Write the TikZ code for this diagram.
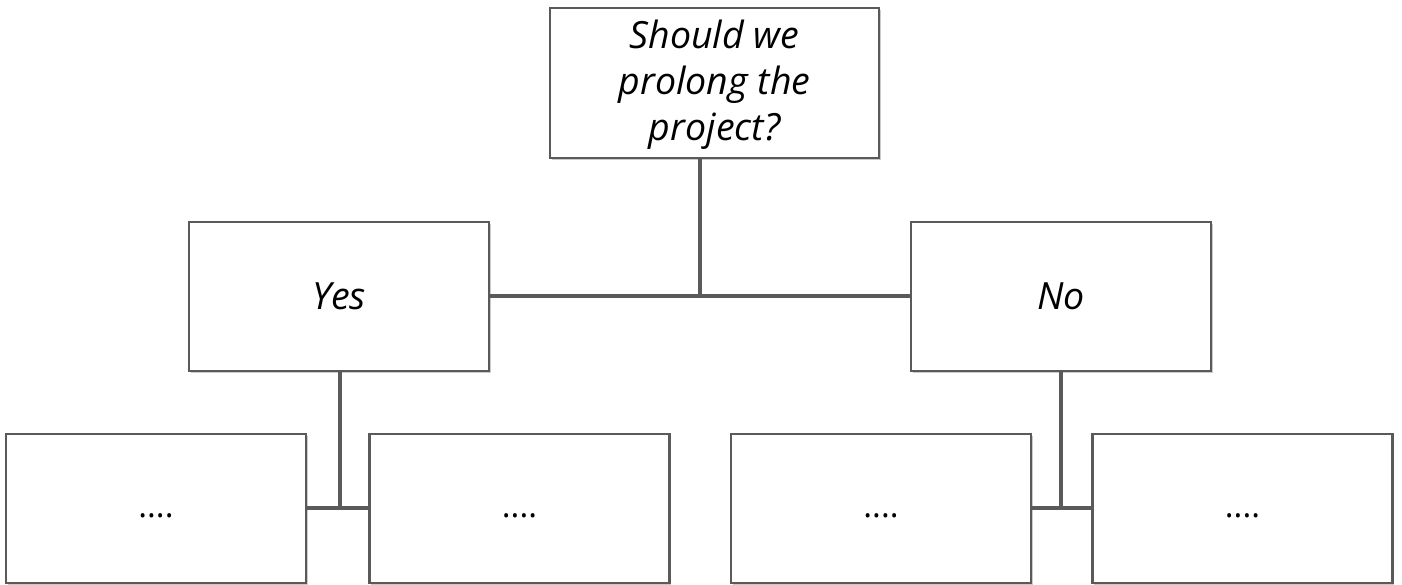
\documentclass[tikz,border=0pt]{standalone}
\usepackage{fontspec}
\setmainfont{Open Sans}
\usetikzlibrary{shadows}
\definecolor{edge}{HTML}{5A5A5A}
\newcommand{\lowr}[2]{\raisebox{-#1}[0pt][0pt]{#2}}
\tikzset{
  box/.style={draw=edge, line width=2.5pt, fill=white, minimum width=300pt, minimum height=149pt,
    inner sep=0pt, align=center, font=\fontsize{37.5}{46}\selectfont\itshape,
    drop shadow={shadow xshift=1.5pt, shadow yshift=-2pt, opacity=0.35, fill=black!60}},
  dotbox/.style={box, font=\fontsize{33}{40}\selectfont},
  conn/.style={draw=edge, line width=4pt}
}
\begin{document}
\begin{tikzpicture}[x=1pt,y=-1pt]
\useasboundingbox (0,0) rectangle (1402,585);
\node[box, minimum width=329pt, minimum height=150pt] (q) at (714.5,83) {\lowr{12pt}{Should we}\\\lowr{12pt}{prolong the}\\\lowr{12pt}{project?}};
\node[box] (yes) at (339,296.5) {Yes};
\node[box] (no) at (1061,296.5) {No};
\node[dotbox] (a) at (156,508.5) {\lowr{9pt}{....}};
\node[dotbox] (b) at (519.5,508.5) {\lowr{9pt}{....}};
\node[dotbox] (c) at (881,508.5) {\lowr{9pt}{....}};
\node[dotbox] (d) at (1242.5,508.5) {\lowr{9pt}{....}};
\coordinate (top) at (700,296);
\coordinate (yj) at (340,508);
\coordinate (nj) at (1061,508);
\draw[conn] (yes.east |- top) -- (no.west |- top);
\draw[conn] (q.south -| top) -- (top);
\draw[conn] (yes.south -| yj) -- (yj);
\draw[conn] (a.east |- yj) -- (b.west |- yj);
\draw[conn] (no.south -| nj) -- (nj);
\draw[conn] (c.east |- nj) -- (d.west |- nj);
\end{tikzpicture}
\end{document}
